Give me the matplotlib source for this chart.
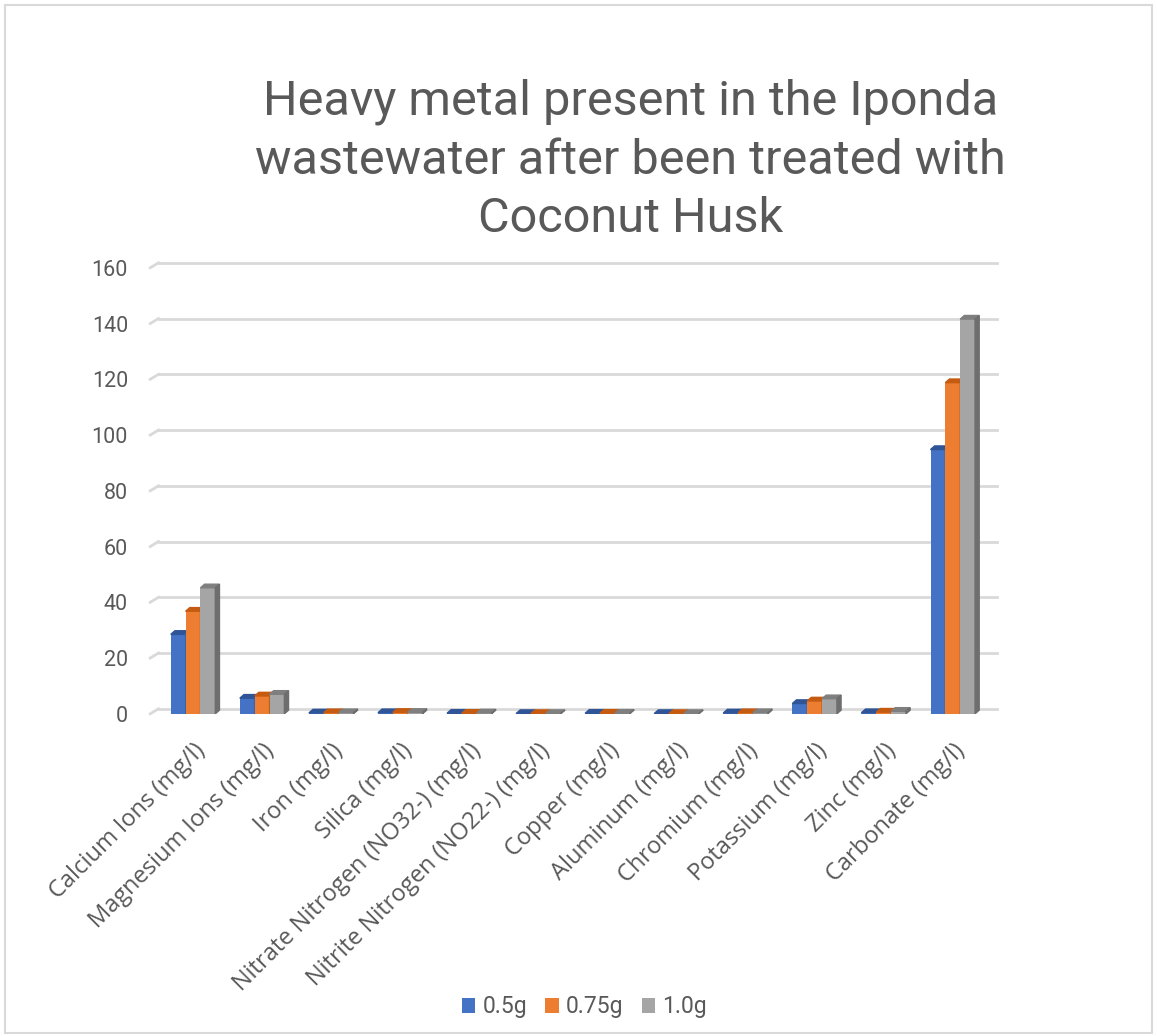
import matplotlib.pyplot as plt
from matplotlib.patches import Polygon, Rectangle

plt.rcParams['font.family'] = ['Roboto', 'DejaVu Sans']

categories = ['Calcium Ions (mg/l)', 'Magnesium Ions (mg/l)', 'Iron (mg/l)',
              'Silica (mg/l)', 'Nitrate Nitrogen (NO32-) (mg/l)',
              'Nitrite Nitrogen (NO22-) (mg/l)', 'Copper (mg/l)',
              'Aluminum (mg/l)', 'Chromium (mg/l)', 'Potassium (mg/l)',
              'Zinc (mg/l)', 'Carbonate (mg/l)']
dose_05 = [28.5, 5.6, 0.3, 0.4, 0.2, 0.1, 0.2, 0.1, 0.3, 3.7, 0.4, 94.8]
dose_075 = [36.8, 6.4, 0.4, 0.5, 0.2, 0.1, 0.2, 0.1, 0.4, 4.6, 0.6, 118.8]
dose_10 = [45.2, 7.0, 0.4, 0.5, 0.3, 0.1, 0.2, 0.1, 0.4, 5.4, 0.9, 141.6]
series = [('0.5g', dose_05, '#4472c4', '#2f5597', '#3a62a8'),
          ('0.75g', dose_075, '#ed7d31', '#c55a11', '#b9621f'),
          ('1.0g', dose_10, '#a5a5a5', '#7f7f7f', '#6e6e6e')]

fig = plt.figure(figsize=(11.57, 10.36), dpi=100)
ax = fig.add_axes([0.137, 0.311, 0.7247, 0.4305])

# back-wall gridlines with a short slanted piece on the side wall
for v in range(0, 161, 20):
    ax.plot([-0.5, 11.64], [v + 1.8, v + 1.8], color='#d9d9d9', lw=2, zorder=0,
            clip_on=False)
    ax.plot([-0.62, -0.5], [v, v + 1.8], color='#d9d9d9', lw=2, zorder=0,
            clip_on=False)

w = 0.215
dx, dy = 0.06, 1.3  # depth of the fake 3D faces
for k, (name, vals, col, topc, sidec) in enumerate(series):
    xs = [i + (k - 1) * w for i in range(len(categories))]
    ax.bar(xs, vals, width=w, color=col, zorder=3 + k, label=name)
    for x, v in zip(xs, vals):
        l, r = x - w / 2, x + w / 2
        ax.add_patch(Polygon([(l, v), (l + dx, v + dy), (r + dx, v + dy), (r, v)],
                             closed=True, color=topc, zorder=3 + k))
        ax.add_patch(Polygon([(r, 0), (r + dx, dy), (r + dx, v + dy), (r, v)],
                             closed=True, color=sidec, zorder=3 + k))

ax.set_xlim(-0.5, 11.64)
ax.set_ylim(0, 160)
ax.set_yticks(range(0, 161, 20))
ax.set_xticks(range(len(categories)))
ax.set_xticklabels(categories, rotation=45, ha='right', rotation_mode='anchor',
                   color='#595959')
for lab in ax.get_xticklabels():
    lab.set_fontfamily(['Open Sans', 'DejaVu Sans'])
    lab.set_fontsize(17)
ax.tick_params(axis='y', labelsize=15.5, labelcolor='#595959', length=0, pad=22)
ax.tick_params(axis='x', length=0, pad=18)
for s in ax.spines.values():
    s.set_visible(False)

fig.text(0.545, 0.845, 'Heavy metal present in the Iponda\nwastewater after been treated with\nCoconut Husk',
         ha='center', va='center', fontsize=35, color='#595959', linespacing=1.35)

leg = fig.legend(loc='center', bbox_to_anchor=(0.505, 0.028), ncol=3, frameon=False,
                 fontsize=16.5, handlelength=0.6, handleheight=0.6, handletextpad=0.3,
                 columnspacing=0.8)
for t in leg.get_texts():
    t.set_color('#595959')

fig.patches.append(Rectangle((0.004, 0.003), 0.992, 0.992, transform=fig.transFigure,
                             fill=False, edgecolor='#d9d9d9', lw=1.5))

fig.savefig('out.png', dpi=100)
